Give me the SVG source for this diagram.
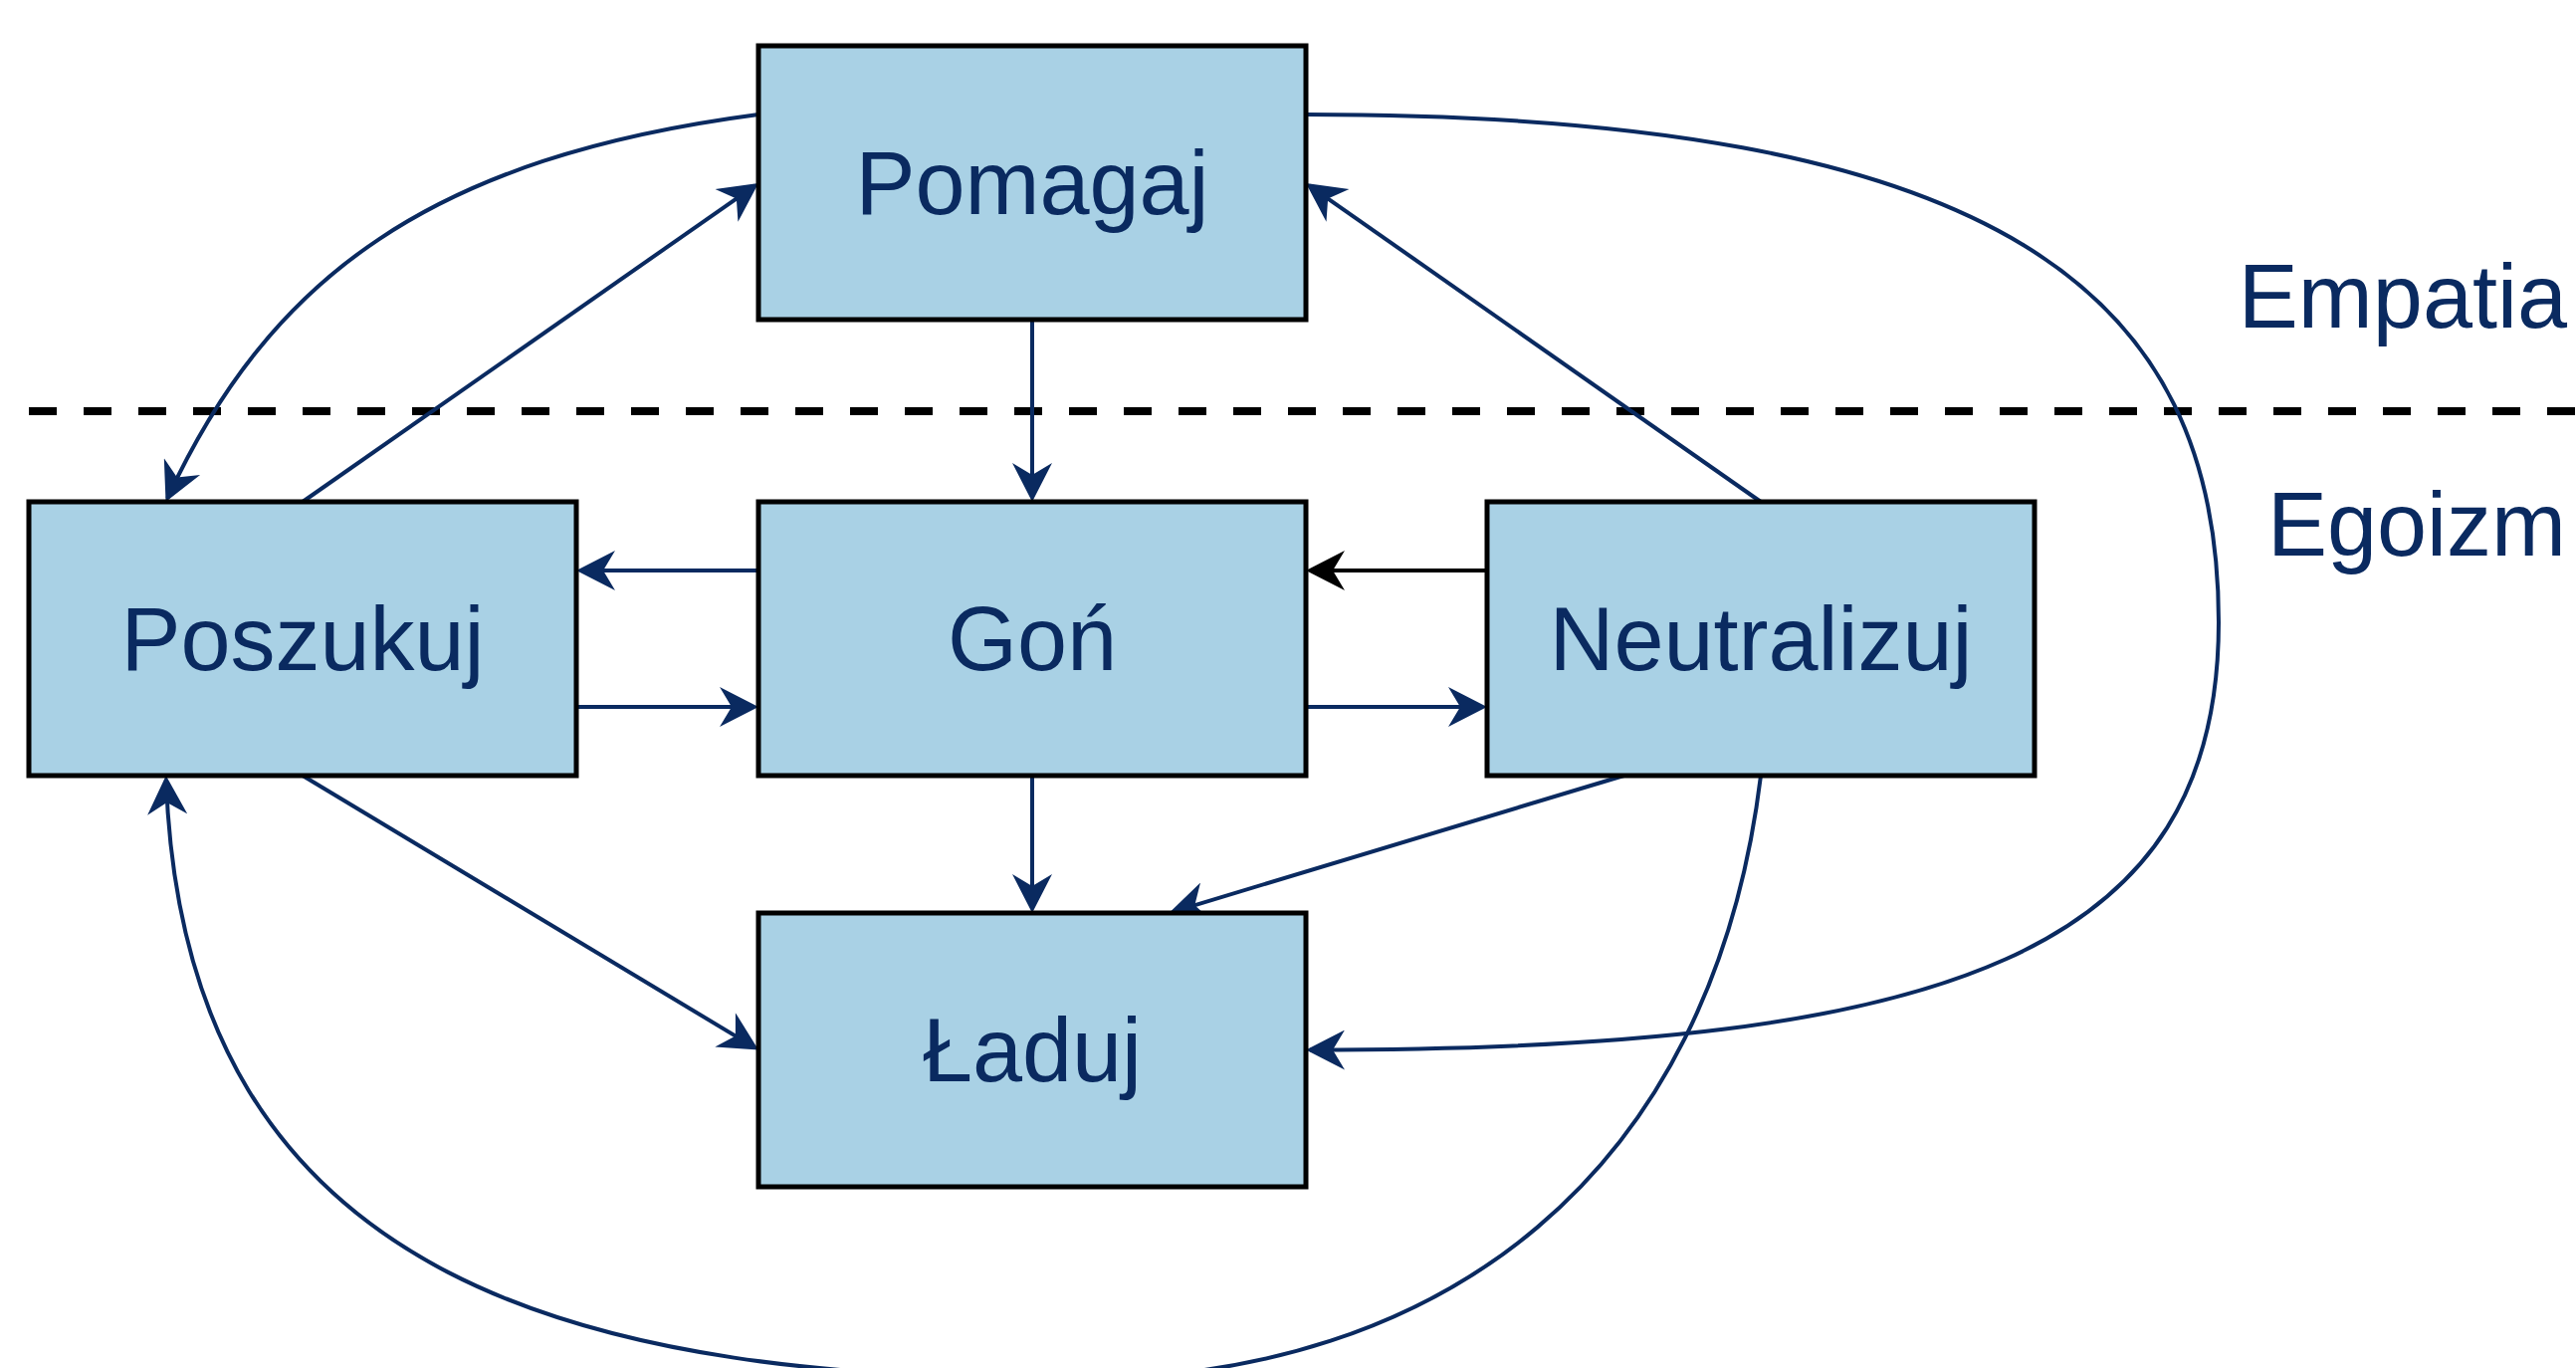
<svg xmlns="http://www.w3.org/2000/svg" width="2588" height="1374" viewBox="0 0 2588 1374">
<style>
.box{fill:#a9d1e5;stroke:#000;stroke-width:5}
.lbl{font-family:"Liberation Sans",Arial,Helvetica,sans-serif;font-size:90px;fill:#0a2a60;text-anchor:middle}
.side{font-family:"Liberation Sans",Arial,Helvetica,sans-serif;font-size:90px;fill:#0a2a60;text-anchor:end}
.e{fill:none;stroke:#0a2a60;stroke-width:4;marker-end:url(#arr)}
.eb{fill:none;stroke:#000;stroke-width:4;marker-end:url(#arrb)}
</style>
<defs>
<marker id="arr" markerUnits="userSpaceOnUse" viewBox="0 0 43 40" markerWidth="43" markerHeight="40" refX="39" refY="20" orient="auto">
<path d="M43,20 L4,0 L16,20 L4,40 Z" fill="#0a2a60"/>
</marker>
<marker id="arrb" markerUnits="userSpaceOnUse" viewBox="0 0 43 40" markerWidth="43" markerHeight="40" refX="39" refY="20" orient="auto">
<path d="M43,20 L4,0 L16,20 L4,40 Z" fill="#000"/>
</marker>
</defs>
<rect width="2588" height="1374" fill="#fff"/>
<line x1="29" y1="413" x2="2588" y2="413" stroke="#000" stroke-width="8" stroke-dasharray="28 27"/>
<text class="side" x="2579" y="329">Empatia</text>
<text class="side" x="2578" y="558">Egoizm</text>
<g id="connectors">
<path class="e" d="M1037,321 L1037,500"/>
<path class="e" d="M762,573 L583,573"/>
<path class="e" d="M579,710 L758,710"/>
<path class="eb" d="M1494,573 L1316,573"/>
<path class="e" d="M1312,710 L1490,710"/>
<path class="e" d="M1037,779 L1037,913"/>
<path class="e" d="M1631.5,779 L1178.3,915.8"/>
<path class="e" d="M304,779 L758.6,1052.4"/>
<path class="e" d="M304,504 L758.7,186.3"/>
<path class="e" d="M1769,504 L1315.3,186.3"/>
<path class="e" d="M762,115 C434,158 272,277 168.2,500.4"/>
<path class="e" d="M1312,115 C2012,115 2229,295 2229,625 C2229,955 1962,1054.5 1316,1054.5"/>
<path class="e" d="M1769,779 C1720,1180 1450,1385 1080,1385 C600,1385 185,1300 166.9,783"/>
</g>
<g id="pomagaj"><rect class="box" x="762" y="46" width="550" height="275"/><text class="lbl" x="1037" y="215">Pomagaj</text></g>
<g id="poszukuj"><rect class="box" x="29" y="504" width="550" height="275"/><text class="lbl" x="304" y="673">Poszukuj</text></g>
<g id="gon"><rect class="box" x="762" y="504" width="550" height="275"/><text class="lbl" x="1037" y="673">Goń</text></g>
<g id="neutralizuj"><rect class="box" x="1494" y="504" width="550" height="275"/><text class="lbl" x="1769" y="673">Neutralizuj</text></g>
<g id="laduj"><rect class="box" x="762" y="917" width="550" height="275"/><text class="lbl" x="1037" y="1086">Ładuj</text></g>
</svg>
